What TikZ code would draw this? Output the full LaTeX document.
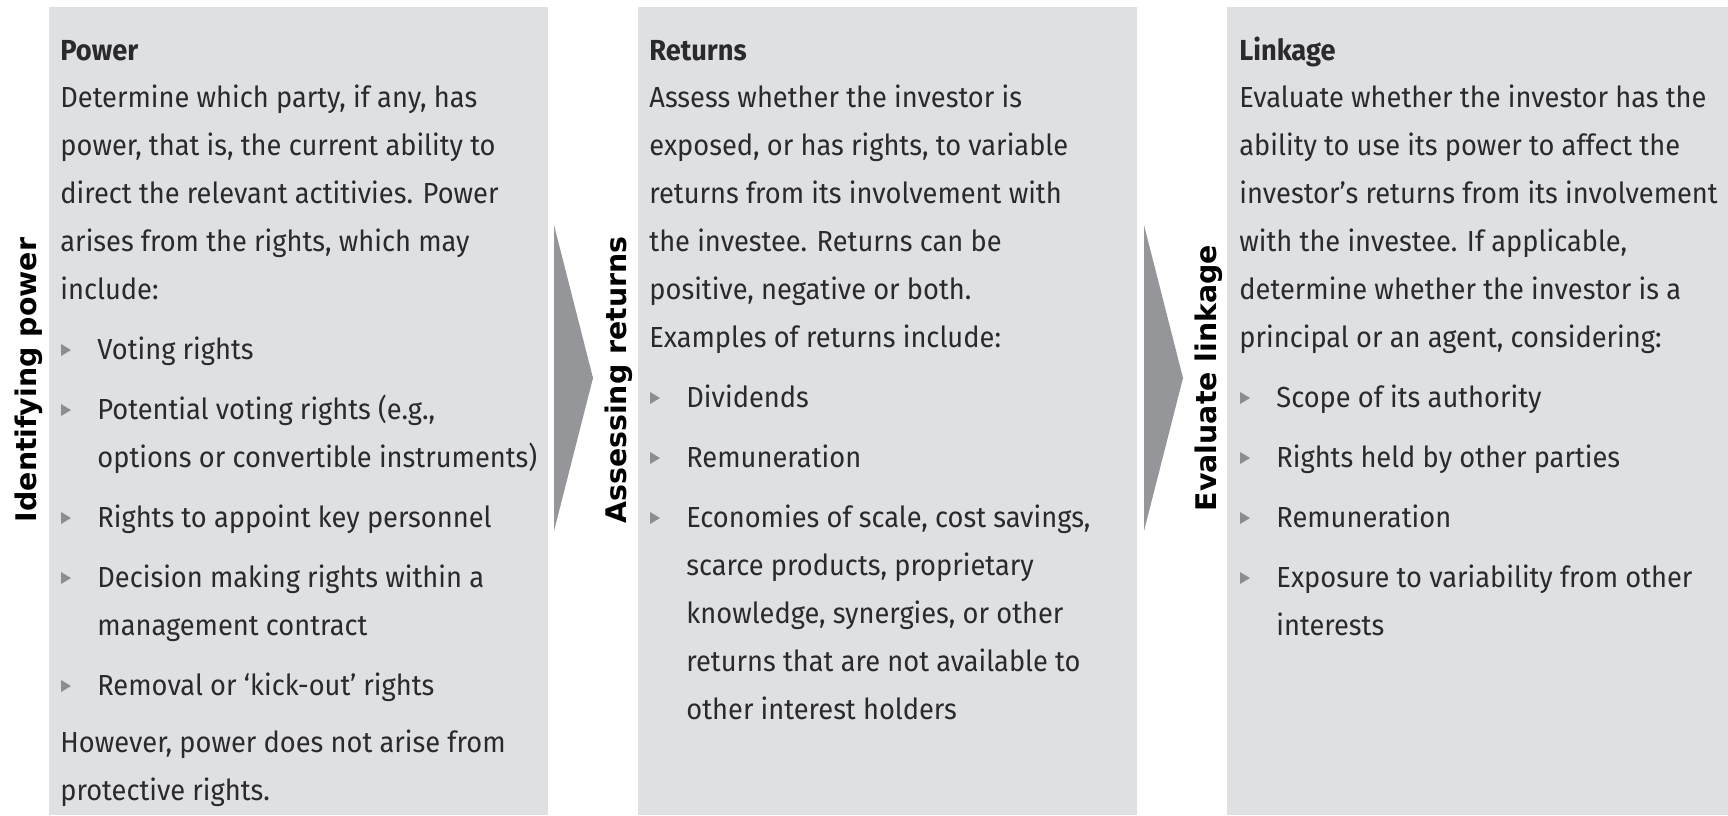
\documentclass[tikz,border=0pt]{standalone}
\usepackage{fontspec}
\setmainfont{Fira Sans}[FakeStretch=0.94]
\newfontfamily\labelfont{DejaVu Sans}
\definecolor{panelgray}{HTML}{DFE0E2}
\definecolor{chevrongray}{HTML}{95969A}
\definecolor{bulletgray}{HTML}{8C8D90}
\definecolor{textdark}{HTML}{2A2A2C}
\begin{document}
\begin{tikzpicture}[x=0.5pt,y=-0.5pt,
  panel/.style={fill=panelgray},
  chevron/.style={fill=chevrongray},
  bulletmark/.style={fill=bulletgray},
  body/.style={anchor=base west,inner sep=0pt,text=textdark,font=\fontsize{14.5}{16}\selectfont},
  heading/.style={body,font=\bfseries\fontsize{14.5}{16}\selectfont},
  steplabel/.style={anchor=base,rotate=90,inner sep=0pt,text=black,font=\labelfont\bfseries\fontsize{14.2}{16}\selectfont}]
\useasboundingbox (0,0) rectangle (1728,815);

% three grey panels
\fill[panel] (49,7) rectangle (548,815);
\fill[panel] (638,7) rectangle (1137,815);
\fill[panel] (1227,7) rectangle (1728,815);

% chevrons between the panels
\fill[chevron] (554,225) -- (593,378) -- (554,531) -- cycle;
\fill[chevron] (1144,225) -- (1183,378) -- (1144,531) -- cycle;

% vertical step labels
\node[steplabel] (lblpower) at (36,380) {Identifying power};
\node[steplabel] (lblreturns) at (626,380) {Assessing returns};
\node[steplabel] (lbllinkage) at (1216,378) {Evaluate linkage};

% --- Power ---
\node[heading] (hpower) at (60,60) {Power};
\foreach \ly/\lx/\lt [count=\i] in {
  107/60/{Determine which party, if any, has},
  155/60/{power, that is, the current ability to},
  203/60/{direct the relevant actitivies. Power},
  251/60/{arises from the rights, which may},
  299/60/{include:},
  359/97/{Voting rights},
  419/97/{Potential voting rights (e.g.,},
  467/97/{options or convertible instruments)},
  527/97/{Rights to appoint key personnel},
  587/97/{Decision making rights within a},
  635/97/{management contract},
  695/97/{Removal or ‘kick-out’ rights},
  752/60/{However, power does not arise from},
  800/60/{protective rights.}}
  \node[body] (power\i) at (\lx,\ly) {\lt};
\foreach \ly in {359,419,527,587,695}
  \fill[bulletmark] (61,\ly-15) -- ++(0,12) -- ++(10,-6) -- cycle;

% --- Returns ---
\node[heading] (hreturns) at (649,60) {Returns};
\foreach \ly/\lx/\lt [count=\i] in {
  107/649/{Assess whether the investor is},
  155/649/{exposed, or has rights, to variable},
  203/649/{returns from its involvement with},
  251/649/{the investee. Returns can be},
  299/649/{positive, negative or both.},
  347/649/{Examples of returns include:},
  407/686/{Dividends},
  467/686/{Remuneration},
  527/686/{Economies of scale, cost savings,},
  575/686/{scarce products, proprietary},
  623/686/{knowledge, synergies, or other},
  671/686/{returns that are not available to},
  719/686/{other interest holders}}
  \node[body] (returns\i) at (\lx,\ly) {\lt};
\foreach \ly in {407,467,527}
  \fill[bulletmark] (650,\ly-15) -- ++(0,12) -- ++(10,-6) -- cycle;

% --- Linkage ---
\node[heading] (hlinkage) at (1239,60) {Linkage};
\foreach \ly/\lx/\lt [count=\i] in {
  107/1239/{Evaluate whether the investor has the},
  155/1239/{ability to use its power to affect the},
  203/1239/{investor’s returns from its involvement},
  251/1239/{with the investee. If applicable,},
  299/1239/{determine whether the investor is a},
  347/1239/{principal or an agent, considering:},
  407/1276/{Scope of its authority},
  467/1276/{Rights held by other parties},
  527/1276/{Remuneration},
  587/1276/{Exposure to variability from other},
  635/1276/{interests}}
  \node[body] (linkage\i) at (\lx,\ly) {\lt};
\foreach \ly in {407,467,527,587}
  \fill[bulletmark] (1240,\ly-15) -- ++(0,12) -- ++(10,-6) -- cycle;
\end{tikzpicture}
\end{document}
